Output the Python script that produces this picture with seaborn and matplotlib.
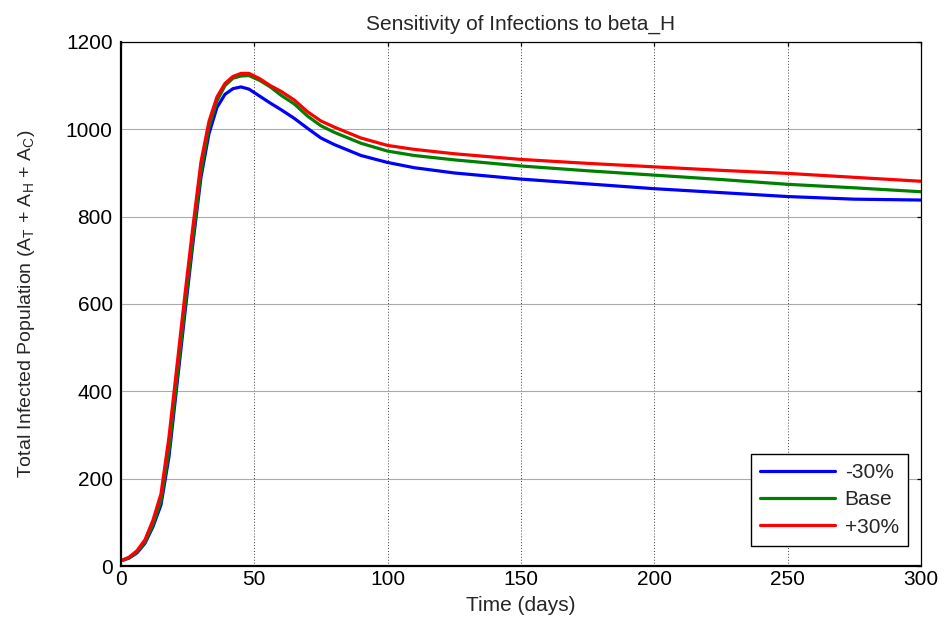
import numpy as np
import pandas as pd
import matplotlib
matplotlib.use("Agg")
import matplotlib.pyplot as plt
import seaborn as sns

days = [0, 3, 6, 9, 12, 15, 18, 21, 24, 27, 30, 33, 36, 39, 42, 45, 48, 52, 56, 60,
        65, 70, 75, 80, 90, 100, 110, 125, 150, 175, 200, 225, 250, 275, 300]
minus30 = [12, 18, 30, 52, 90, 140, 250, 415, 580, 740, 890, 990, 1050, 1080, 1093, 1097, 1092,
           1076, 1060, 1045, 1025, 1002, 980, 965, 940, 924, 912, 900, 886, 875, 864, 855, 846, 840, 838]
base = [12, 19, 32, 55, 95, 150, 265, 430, 595, 752, 902, 1005, 1065, 1100, 1117, 1122, 1123,
        1112, 1097, 1078, 1058, 1030, 1008, 993, 968, 950, 940, 930, 916, 905, 895, 885, 874, 866, 857]
plus30 = [12, 20, 35, 60, 105, 165, 295, 458, 622, 778, 925, 1018, 1074, 1105, 1121, 1128, 1128,
          1116, 1100, 1087, 1067, 1040, 1019, 1005, 980, 963, 954, 944, 931, 922, 914, 906, 899, 890, 881]
labels = ["-30%", "Base", "+30%"]
colors = ["#0000ff", "#008000", "#ff0000"]
xticks = [0, 50, 100, 150, 200, 250, 300]
yticks = [0, 200, 400, 600, 800, 1000, 1200]

df = pd.concat([
    pd.DataFrame({"t": days, "v": vals, "s": lab})
    for vals, lab in zip([minus30, base, plus30], labels)
])

sns.set_theme(style="white")
plt.rcParams["font.family"] = ["Liberation Sans", "DejaVu Sans"]

fig = plt.figure(figsize=(9.45, 6.26), dpi=100)
ax = fig.add_axes([0.128, 0.0958, 0.8466, 0.8372])
sns.lineplot(data=df, x="t", y="v", hue="s", hue_order=labels,
             palette=colors, linewidth=2.3, ax=ax)

ax.set_xlim(0, 300)
ax.set_ylim(0, 1200)
ax.set_xticks(xticks)
ax.set_yticks(yticks)
ax.tick_params(direction="in", top=True, right=True, length=3, width=0.9,
               labelsize=15, colors="black")
ax.tick_params(axis="y", pad=6)
ax.tick_params(axis="x", pad=3)
for name, sp in ax.spines.items():
    sp.set_color("black")
    sp.set_linewidth(1.6 if name in ("left", "bottom") else 0.9)
ax.xaxis.grid(True, linestyle=(0, (1, 2)), color="#444444", linewidth=0.7)
ax.yaxis.grid(True, linestyle="-", color="#aaaaaa", linewidth=0.8)
ax.set_axisbelow(True)

ax.set_title("Sensitivity of Infections to beta_H", fontsize=15, pad=9)
ax.set_xlabel("Time (days)", fontsize=15, labelpad=5)
ax.set_ylabel(r"Total Infected Population (A$_\mathregular{T}$ + A$_\mathregular{H}$ + A$_\mathregular{C}$)",
              fontsize=14)
ax.yaxis.set_label_coords(-0.105, 0.5)

leg = ax.legend(loc="lower right", bbox_to_anchor=(0.984, 0.038), borderaxespad=0,
                fontsize=15, frameon=True, fancybox=False,
                edgecolor="black", framealpha=1, handlelength=3.6,
                labelspacing=0.4, handletextpad=0.45, borderpad=0.45)
leg.get_frame().set_linewidth(1.0)

fig.savefig("out.png", dpi=100)
